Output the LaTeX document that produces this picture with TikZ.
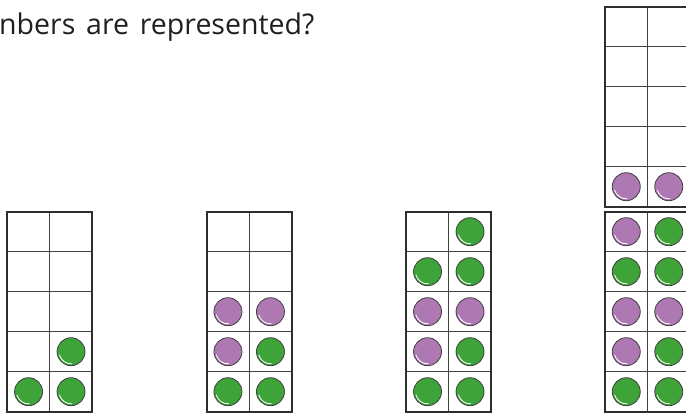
\documentclass[tikz,border=0pt]{standalone}
\usepackage{fontspec}
\setmainfont{Open Sans}
\definecolor{cgreen}{HTML}{3EA338}
\definecolor{cpurple}{HTML}{AE78B3}
\definecolor{gline}{HTML}{2E2E2E}
\newcommand\tframe[2]{%
  \draw[gridl] (#1+42.5,#2) -- (#1+42.5,#2+200);
  \foreach \r in {1,...,4} \draw[gridl] (#1,#2+40*\r) -- (#1+85,#2+40*\r);
  \draw[framebox] (#1,#2) rectangle (#1+85,#2+200);
}
% \ctr{name}{frame x}{frame top}{col}{row}{style}
\newcommand\ctr[6]{%
  \node[#6] (#1) at (#2+21.25+42.5*#4-42.5, #3+20+40*#5-40) {};
}
\begin{document}
\begin{tikzpicture}[x=1pt,y=-1pt,
  framebox/.style={draw=gline, line width=2pt},
  gridl/.style={draw=gline!90, line width=1pt},
  counter/.style={circle, minimum size=28pt, inner sep=0pt, draw=black!75, line width=0.8pt,
    path picture={\draw[white, line width=0.8pt] (path picture bounding box.center) ++(195:12.1pt) arc[start angle=195, end angle=275, radius=12.1pt];}},
  gc/.style={counter, fill=cgreen},
  pc/.style={counter, fill=cpurple}]
\useasboundingbox (0,0) rectangle (686,413);

\node[anchor=base west, inner sep=0pt, text=black!88,
  font=\fontsize{28.5}{34}\selectfont] (q) at (-1,34.5) {nbers\hspace{0.38em}are\hspace{0.38em}represented?};

% frame A
\tframe{7.3}{211.7}
\ctr{a1}{7.3}{211.7}{2}{4}{gc}
\ctr{a2}{7.3}{211.7}{1}{5}{gc}
\ctr{a3}{7.3}{211.7}{2}{5}{gc}

% frame B
\tframe{206.7}{211.7}
\ctr{b1}{206.7}{211.7}{1}{3}{pc}
\ctr{b2}{206.7}{211.7}{2}{3}{pc}
\ctr{b3}{206.7}{211.7}{1}{4}{pc}
\ctr{b4}{206.7}{211.7}{2}{4}{gc}
\ctr{b5}{206.7}{211.7}{1}{5}{gc}
\ctr{b6}{206.7}{211.7}{2}{5}{gc}

% frame C
\tframe{406.3}{211.7}
\ctr{c1}{406.3}{211.7}{2}{1}{gc}
\ctr{c2}{406.3}{211.7}{1}{2}{gc}
\ctr{c3}{406.3}{211.7}{2}{2}{gc}
\ctr{c4}{406.3}{211.7}{1}{3}{pc}
\ctr{c5}{406.3}{211.7}{2}{3}{pc}
\ctr{c6}{406.3}{211.7}{1}{4}{pc}
\ctr{c7}{406.3}{211.7}{2}{4}{gc}
\ctr{c8}{406.3}{211.7}{1}{5}{gc}
\ctr{c9}{406.3}{211.7}{2}{5}{gc}

% frame D top
\tframe{605}{6.7}
\ctr{d1}{605}{6.7}{1}{5}{pc}
\ctr{d2}{605}{6.7}{2}{5}{pc}

% frame D bottom
\tframe{605}{211.7}
\ctr{e1}{605}{211.7}{1}{1}{pc}
\ctr{e2}{605}{211.7}{2}{1}{gc}
\ctr{e3}{605}{211.7}{1}{2}{gc}
\ctr{e4}{605}{211.7}{2}{2}{gc}
\ctr{e5}{605}{211.7}{1}{3}{pc}
\ctr{e6}{605}{211.7}{2}{3}{pc}
\ctr{e7}{605}{211.7}{1}{4}{pc}
\ctr{e8}{605}{211.7}{2}{4}{gc}
\ctr{e9}{605}{211.7}{1}{5}{gc}
\ctr{e10}{605}{211.7}{2}{5}{gc}
\end{tikzpicture}
\end{document}
